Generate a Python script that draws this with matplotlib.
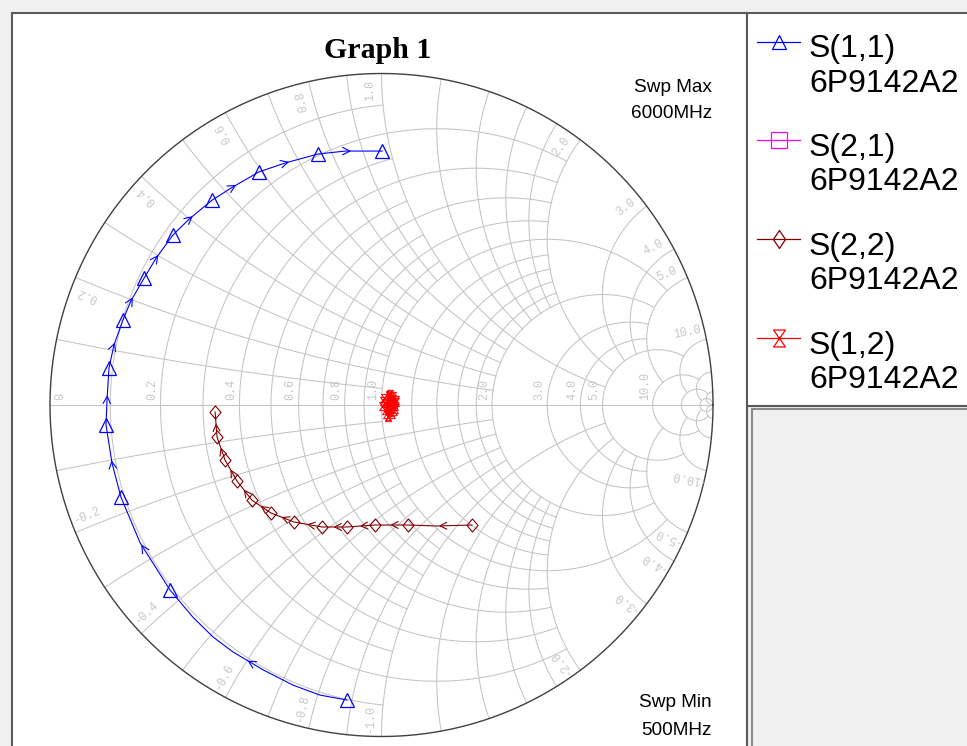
import numpy as np
import matplotlib
matplotlib.use("Agg")
import matplotlib.pyplot as plt
from matplotlib.path import Path
from matplotlib.patches import Rectangle

# ---------------- data (reflection coefficients) ----------------
s11_re = [-0.104, -0.186, -0.267, -0.357, -0.448, -0.508, -0.569, -0.638, -0.728, -0.786,
          -0.813, -0.831, -0.828, -0.822, -0.807, -0.780, -0.756, -0.716, -0.680, -0.629,
          -0.580, -0.511, -0.448, -0.370, -0.291, -0.192, -0.110, 0.002]
s11_im = [-0.890, -0.875, -0.845, -0.799, -0.745, -0.700, -0.640, -0.558, -0.416, -0.278,
          -0.175, -0.060, 0.015, 0.112, 0.181, 0.256, 0.314, 0.383, 0.443, 0.513,
          0.561, 0.618, 0.658, 0.703, 0.730, 0.757, 0.766, 0.766]
s11_markers = [0, 7, 9, 11, 13, 15, 17, 19, 21, 23, 25, 27]

s22_re = [0.273, 0.167, 0.080, -0.020, -0.104, -0.179, -0.264, -0.333, -0.391, -0.436,
          -0.472, -0.496, -0.502]
s22_im = [-0.362, -0.365, -0.362, -0.362, -0.368, -0.368, -0.353, -0.326, -0.287, -0.229,
          -0.166, -0.097, -0.021]
s22_markers = [0, 2, 3, 4, 5, 6, 7, 8, 9, 10, 11, 12]

s12_re = [0.022, 0.035, 0.010, 0.041, 0.026, 0.004, 0.038, 0.030, 0.014, 0.045, 0.020, 0.033,
          0.008, 0.040, 0.027, 0.017, 0.036, 0.029, 0.002, 0.043, 0.024, 0.031, 0.012, 0.039,
          0.021, 0.034, 0.019, 0.028]
s12_im = [0.030, 0.018, 0.006, -0.004, 0.034, 0.012, -0.018, 0.024, -0.026, 0.010, -0.032, 0.002,
          0.020, -0.012, 0.014, -0.006, 0.026, -0.022, -0.002, 0.016, 0.028, -0.028, -0.015, 0.004,
          -0.036, 0.008, 0.022, -0.010]

s21_re = []   # S(2,1) has no trace visible inside the chart
s21_im = []

series_names = ["S(1,1)", "S(2,1)", "S(2,2)", "S(1,2)"]
device_name = "6P9142A2"
title_text = "Graph 1"
swp_max = ["Swp Max", "6000MHz"]
swp_min = ["Swp Min", "500MHz"]
r_label_values = [0, 0.2, 0.4, 0.6, 0.8, 1.0, 2.0, 3.0, 4.0, 5.0, 10.0]
x_label_values = [0.2, 0.4, 0.6, 0.8, 1.0, 2.0, 3.0, 4.0, 5.0, 10.0]
# grid circle value -> limit of the other coordinate
grid_values = [0.1, 0.2, 0.3, 0.4, 0.5, 0.6, 0.7, 0.8, 0.9, 1.0, 1.2, 1.4, 1.6, 1.8,
               2.0, 3.0, 4.0, 5.0, 10.0, 20.0, 50.0]
grid_limits = [1, 2, 1, 2, 1, 2, 1, 2, 1, 5, 2, 2, 2, 2, 5, 5, 5, 10, 20, 50, np.inf]

# ---------------- layout ----------------
W, H = 967, 746
CX, CY, RP = 381.5, 405.0, 331.5
fig = plt.figure(figsize=(W / 100, H / 100), dpi=100, facecolor="#f0f0f0")

bg = fig.add_axes([0, 0, 1, 1], zorder=0)
bg.set_xlim(0, W); bg.set_ylim(H, 0); bg.axis("off")
bg.add_patch(Rectangle((11.5, 12.5), 735.5, 760, facecolor="white", edgecolor="#5a5a5a", lw=1.5))
bg.add_patch(Rectangle((747, 12.5), 240, 393.5, facecolor="white", edgecolor="#5a5a5a", lw=1.5))
bg.add_patch(Rectangle((751.5, 409), 240, 360, facecolor="#f0f0f0", edgecolor="#8a8a8a", lw=1.5))

EXT = 1.06
ax = fig.add_axes([(CX - EXT * RP) / W, 1 - (CY + EXT * RP) / H, 2 * EXT * RP / W, 2 * EXT * RP / H],
                  zorder=1)
ax.set_xlim(-EXT, EXT); ax.set_ylim(-EXT, EXT); ax.axis("off")
ax.patch.set_alpha(0)

GRID_C = "#c4c4c4"
GRID_LW = 0.75


def gam(z):
    return (z - 1) / (z + 1)


for v, lim in zip(grid_values, grid_limits):
    # resistance circle
    if np.isinf(lim):
        t = np.linspace(0, 2 * np.pi, 721)
        c, rad = v / (1 + v), 1 / (1 + v)
        ax.plot(c + rad * np.cos(t), rad * np.sin(t), color=GRID_C, lw=GRID_LW, zorder=1)
    else:
        t = np.linspace(-np.arctan(lim), np.arctan(lim), 500)
        g = gam(v + 1j * np.tan(t))
        ax.plot(g.real, g.imag, color=GRID_C, lw=GRID_LW, zorder=1)
    # reactance arcs
    umax = np.pi / 2 - 1e-5 if np.isinf(lim) else np.arctan(lim)
    u = np.linspace(0, umax, 500)
    for s in (1, -1):
        g = gam(np.tan(u) + 1j * s * v)
        ax.plot(g.real, g.imag, color=GRID_C, lw=GRID_LW, zorder=1)

ax.plot([-1, 1], [0, 0], color=GRID_C, lw=GRID_LW, zorder=1)
t = np.linspace(0, 2 * np.pi, 1441)
ax.plot(np.cos(t), np.sin(t), color="#404040", lw=1.0, zorder=2)

LBL = dict(color="#c8c8c8", fontsize=8.5, family="Liberation Mono", rotation_mode="anchor")
for rv in r_label_values:
    gx = (rv - 1) / (rv + 1)
    ax_pos = gx - 2.0 / RP if rv > 0 else -0.950
    ax.text(ax_pos, 5.0 / RP, f"{rv:.1f}" if rv > 0 else "0", rotation=90,
            ha="left", va="bottom", **LBL)
for xv in x_label_values:
    for s in (1, -1):
        g = gam(1j * s * xv)
        th = np.degrees(np.arctan2(g.imag, g.real))
        if s > 0:
            a, rot = th + 2.0, th
        else:
            a, rot = th - 2.0, th + 180
        rr = 0.948
        ax.text(rr * np.cos(np.radians(a)), rr * np.sin(np.radians(a)), f"{s * xv:.1f}",
                rotation=rot, ha="center", va="center", **LBL)

# ---------------- markers ----------------
hour_path = Path([(-0.7, 1), (0.7, 1), (-0.7, -1), (0.7, -1), (-0.7, 1)],
                 [Path.MOVETO, Path.LINETO, Path.LINETO, Path.LINETO, Path.CLOSEPOLY])
diam_chart = Path([(0, 1), (0.85, 0), (0, -1), (-0.85, 0), (0, 1)],
                  [Path.MOVETO, Path.LINETO, Path.LINETO, Path.LINETO, Path.CLOSEPOLY])
diam_leg = Path([(0, 1), (0.67, 0), (0, -1), (-0.67, 0), (0, 1)],
                [Path.MOVETO, Path.LINETO, Path.LINETO, Path.LINETO, Path.CLOSEPOLY])


def arrows(re, im, idx, color, size, lw):
    pts = np.column_stack([re, im])
    for a, b in zip(idx[:-1], idx[1:]):
        seg = pts[a:b + 1]
        d = np.diff(seg, axis=0)
        L = np.hypot(d[:, 0], d[:, 1])
        cum = np.concatenate([[0], np.cumsum(L)])
        if cum[-1] <= 0:
            continue
        half = cum[-1] / 2
        k = int(np.clip(np.searchsorted(cum, half) - 1, 0, len(L) - 1))
        tt = (half - cum[k]) / L[k]
        p = seg[k] + tt * d[k]
        base = np.arctan2(d[k, 1], d[k, 0]) + np.pi
        for sg in (1, -1):
            ang = base + sg * np.radians(27)
            ax.plot([p[0], p[0] + size * np.cos(ang)], [p[1], p[1] + size * np.sin(ang)],
                    color=color, lw=lw, zorder=4, solid_capstyle="butt")


BLUE, MAG, MAROON, RED = "#0000ff", "#ff00ff", "#800000", "#ff0000"

ax.plot(s11_re, s11_im, color=BLUE, lw=0.8, zorder=3)
ax.plot(np.array(s11_re)[s11_markers], np.array(s11_im)[s11_markers], ls="none", marker="^",
        ms=10, mfc="none", mec=BLUE, mew=0.9, zorder=4)
arrows(s11_re, s11_im, s11_markers, BLUE, 0.026, 0.8)

ax.plot(s22_re, s22_im, color=MAROON, lw=0.8, zorder=3)
ax.plot(np.array(s22_re)[s22_markers], np.array(s22_im)[s22_markers], ls="none", marker=diam_chart,
        ms=9.4, mfc="none", mec=MAROON, mew=0.8, zorder=4)
arrows(s22_re, s22_im, s22_markers, MAROON, 0.024, 0.8)

ax.plot(s12_re, s12_im, color=RED, lw=0.8, zorder=3)
ax.plot(s12_re, s12_im, ls="none", marker=hour_path, ms=6, mfc="none", mec=RED, mew=0.7, zorder=4)
arrows(s12_re, s12_im, list(range(len(s12_re))), RED, 0.015, 0.7)

if len(s21_re):
    ax.plot(s21_re, s21_im, color=MAG, lw=0.8, marker="s", mfc="none", zorder=3)

# ---------------- texts and legend ----------------
fg = fig.add_axes([0, 0, 1, 1], zorder=2)
fg.set_xlim(0, W); fg.set_ylim(H, 0); fg.axis("off"); fg.patch.set_alpha(0)

fg.text(378, 57.5, title_text, ha="center", va="baseline", fontsize=21.5, fontweight="bold",
        family="Liberation Serif", color="black")
SW = dict(ha="right", va="baseline", fontsize=13.7, family="Liberation Sans", color="black")
fg.text(712, 92.5, swp_max[0], **SW)
fg.text(712, 118.5, swp_max[1], **SW)
fg.text(712, 707, swp_min[0], **SW)
fg.text(712, 735, swp_min[1], **SW)

leg_styles = [
    (BLUE, "^", 9.4),
    (MAG, "s", 11.5),
    (MAROON, diam_leg, 13.0),
    (RED, hour_path, 12.2),
]
line_y = [41.7, 140.0, 239.0, 338.0]
for i, (name, (col, mk, ms)) in enumerate(zip(series_names, leg_styles)):
    y = line_y[i]
    fg.plot([757, 800], [y, y], color=col, lw=0.9)
    fg.plot([779], [y], ls="none", marker=mk, ms=ms, mfc="none", mec=col, mew=0.9)
    fg.text(809, y + 15.8, name, ha="left", va="baseline", fontsize=23,
            family="Liberation Sans", color="black")
    fg.text(809, y + 50.3, device_name, ha="left", va="baseline", fontsize=23,
            family="Liberation Sans", color="black")

fig.savefig("out.png", dpi=100, facecolor=fig.get_facecolor())
